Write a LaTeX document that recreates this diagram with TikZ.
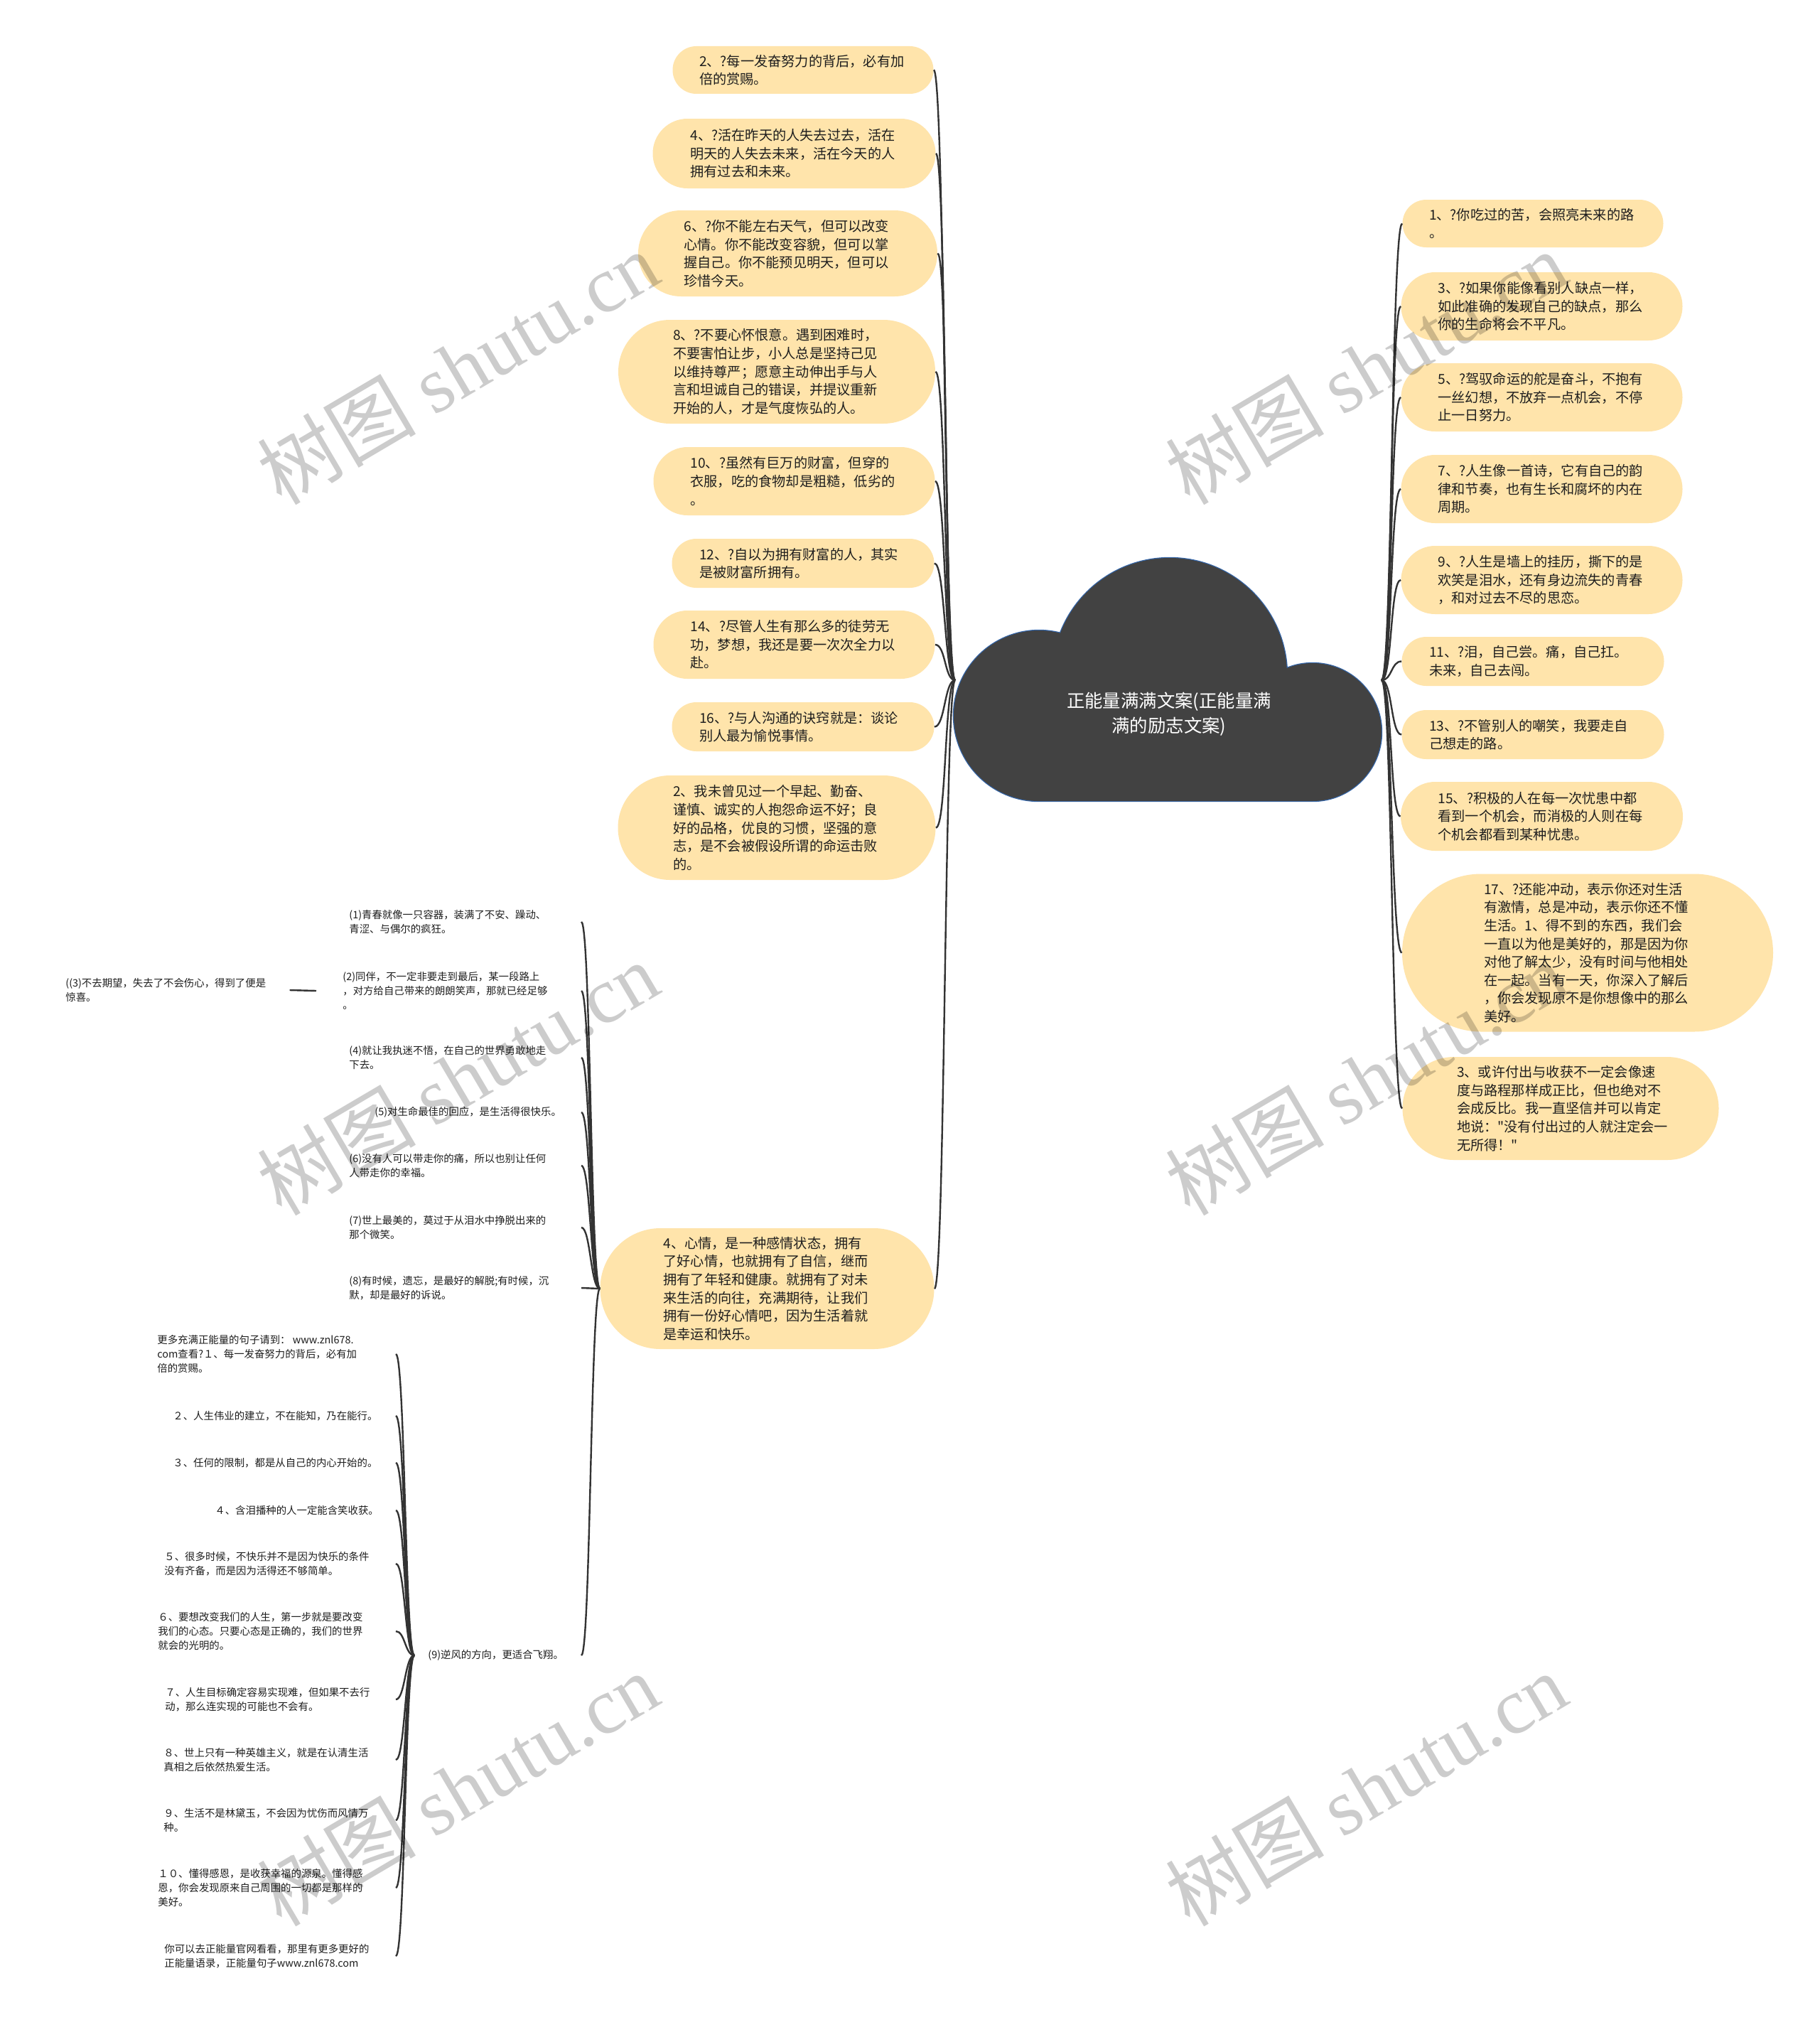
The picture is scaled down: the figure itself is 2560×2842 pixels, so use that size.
\documentclass[tikz,border=0pt]{standalone}
\usepackage{fontspec}
\setmainfont{Noto Sans CJK SC}[Ligatures=TeXOff]
\newfontfamily\wmlatin{Liberation Serif}
\usetikzlibrary{calc}
\definecolor{boxfill}{RGB}{255,228,171}
\definecolor{cloudfill}{RGB}{66,66,66}
\definecolor{cloudline}{RGB}{52,102,170}
\definecolor{linkc}{RGB}{51,51,51}
\definecolor{txt}{RGB}{30,30,30}
\begin{document}
\begin{tikzpicture}[x=0.5pt,y=-0.5pt,
  pill/.style={rectangle, fill=boxfill, text=txt,
    font=\fontsize{9.6pt}{12.8pt}\selectfont, text width=146pt, align=left,
    inner xsep=2pt, inner ysep=2pt,
    minimum height=#1, minimum width=#1+150pt, rounded corners=#1/2-0.05pt},
  leaf/.style={anchor=west, inner sep=0pt, text=txt,
    font=\fontsize{7.2pt}{10pt}\selectfont, align=left},
  link/.style={draw=linkc, line width=1.2pt},
  wm/.style={rotate=30.5, text=black, text opacity=0.2,
    font=\fontsize{56pt}{60pt}\selectfont}
]
\fill[white] (0,0) rectangle (2560,2842);
\useasboundingbox (0,0) rectangle (2560,2842);

% ---------- cloud ----------
\draw[cloudline, line width=1.2pt]
  (1462,1007) circle[radius=60pt]
  (1646,950) circle[radius=82.5pt]
  (1847,1030) circle[radius=48.5pt]
  (1459,1000) rectangle (1847,1127);
\fill[cloudfill]
  (1462,1007) circle[radius=60pt]
  (1646,950) circle[radius=82.5pt]
  (1847,1030) circle[radius=48.5pt]
  (1459,1000) rectangle (1847,1127);
\node[text=white, align=center, font=\fontsize{12.7pt}{17.5pt}\selectfont] (root) at (1645,1005)
  {正能量满满文案(正能量满\\满的励志文案)};
\coordinate (hubL) at (1344,957);
\coordinate (hubR) at (1944,957);

% ---------- left main nodes ----------
\node[pill=33.5pt] (L1) at (1130,98.5) {2、?每一发奋努力的背后，必有加\\倍的赏赐。};
\node[pill=49pt] (L2) at (1117.5,216) {4、?活在昨天的人失去过去，活在\\明天的人失去未来，活在今天的人\\拥有过去和未来。};
\node[pill=60.5pt] (L3) at (1108.5,356.5) {6、?你不能左右天气，但可以改变\\心情。你不能改变容貌，但可以掌\\握自己。你不能预见明天，但可以\\珍惜今天。};
\node[pill=73pt] (L4) at (1093,523) {8、?不要心怀恨意。遇到困难时，\\不要害怕让步，小人总是坚持己见\\以维持尊严；愿意主动伸出手与人\\言和坦诚自己的错误，并提议重新\\开始的人，才是气度恢弘的人。};
\node[pill=48pt] (L5) at (1117.5,677) {10、?虽然有巨万的财富，但穿的\\衣服，吃的食物却是粗糙，低劣的\\。};
\node[pill=34.5pt] (L6) at (1130,792.5) {12、?自以为拥有财富的人，其实\\是被财富所拥有。};
\node[pill=48pt] (L7) at (1117.5,907) {14、?尽管人生有那么多的徒劳无\\功，梦想，我还是要一次次全力以\\赴。};
\node[pill=34.5pt] (L8) at (1130,1022.5) {16、?与人沟通的诀窍就是：谈论\\别人最为愉悦事情。};
\node[pill=73.5pt] (L9) at (1093,1164.5) {2、我未曾见过一个早起、勤奋、\\谨慎、诚实的人抱怨命运不好；良\\好的品格，优良的习惯，坚强的意\\志，是不会被假设所谓的命运击败\\的。};
\node[pill=85pt] (L10) at (1079.5,1813) {4、心情，是一种感情状态，拥有\\了好心情，也就拥有了自信，继而\\拥有了年轻和健康。就拥有了对未\\来生活的向往，充满期待，让我们\\拥有一份好心情吧，因为生活着就\\是幸运和快乐。};

% ---------- right main nodes ----------
\node[pill=33.5pt] (R1) at (2157,314.5) {1、?你吃过的苦，会照亮未来的路\\。};
\node[pill=48pt] (R2) at (2169.5,431) {3、?如果你能像看别人缺点一样，\\如此准确的发现自己的缺点，那么\\你的生命将会不平凡。};
\node[pill=48pt] (R3) at (2169.5,559) {5、?驾驭命运的舵是奋斗，不抱有\\一丝幻想，不放弃一点机会，不停\\止一日努力。};
\node[pill=48pt] (R4) at (2169.5,688) {7、?人生像一首诗，它有自己的韵\\律和节奏，也有生长和腐坏的内在\\周期。};
\node[pill=48pt] (R5) at (2169.5,816) {9、?人生是墙上的挂历，撕下的是\\欢笑是泪水，还有身边流失的青春\\，和对过去不尽的思恋。};
\node[pill=34.5pt] (R6) at (2157,930.5) {11、?泪，自己尝。痛，自己扛。\\未来，自己去闯。};
\node[pill=34.5pt] (R7) at (2157,1033.5) {13、?不管别人的嘲笑，我要走自\\己想走的路。};
\node[pill=48.5pt] (R8) at (2169.5,1148.5) {15、?积极的人在每一次忧患中都\\看到一个机会，而消极的人则在每\\个机会都看到某种忧患。};
\node[pill=111pt] (R9) at (2234,1340.5) {17、?还能冲动，表示你还对生活\\有激情，总是冲动，表示你还不懂\\生活。1、得不到的东西，我们会\\一直以为他是美好的，那是因为你\\对他了解太少，没有时间与他相处\\在一起。当有一天，你深入了解后\\，你会发现原不是你想像中的那么\\美好。};
\node[pill=72.5pt] (R10) at (2196,1559.5) {3、或许付出与收获不一定会像速\\度与路程那样成正比，但也绝对不\\会成反比。我一直坚信并可以肯定\\地说："没有付出过的人就注定会一\\无所得！"};

% ---------- second level (children of L10) ----------
\coordinate (scol) at (818,0);
\node[leaf] (S1) at (491,1297) {(1)青春就像一只容器，装满了不安、躁动、\\青涩、与偶尔的疯狂。};
\node[leaf] (S2) at (482,1394) {(2)同伴，不一定非要走到最后，某一段路上\\，对方给自己带来的朗朗笑声，那就已经足够\\。};
\node[leaf] (S3) at (92,1393) {((3)不去期望，失去了不会伤心，得到了便是\\惊喜。};
\node[leaf] (S4) at (491,1488) {(4)就让我执迷不悟，在自己的世界勇敢地走\\下去。};
\node[leaf] (S5) at (527,1565) {(5)对生命最佳的回应，是生活得很快乐。};
\node[leaf] (S6) at (491,1640) {(6)没有人可以带走你的痛，所以也别让任何\\人带走你的幸福。};
\node[leaf] (S7) at (491,1727) {(7)世上最美的，莫过于从泪水中挣脱出来的\\那个微笑。};
\node[leaf] (S8) at (491,1812) {(8)有时候，遗忘，是最好的解脱;有时候，沉\\默，却是最好的诉说。};
\node[leaf] (S9) at (602,2329) {(9)逆风的方向，更适合飞翔。};

% ---------- third level (children of S9) ----------
\coordinate (tcol) at (557,0);
\node[leaf] (T1) at (221,1905) {更多充满正能量的句子请到： www.znl678.\\com查看?１、每一发奋努力的背后，必有加\\倍的赏赐。};
\node[leaf] (T2) at (243,1992) {２、人生伟业的建立，不在能知，乃在能行。};
\node[leaf] (T3) at (243,2058) {３、任何的限制，都是从自己的内心开始的。};
\node[leaf] (T4) at (302,2125) {４、含泪播种的人一定能含笑收获。};
\node[leaf] (T5) at (231,2200) {５、很多时候，不快乐并不是因为快乐的条件\\没有齐备，而是因为活得还不够简单。};
\node[leaf] (T6) at (222,2295) {６、要想改变我们的人生，第一步就是要改变\\我们的心态。只要心态是正确的，我们的世界\\就会的光明的。};
\node[leaf] (T7) at (232,2391) {７、人生目标确定容易实现难，但如果不去行\\动，那么连实现的可能也不会有。};
\node[leaf] (T8) at (230,2476) {８、世上只有一种英雄主义，就是在认清生活\\真相之后依然热爱生活。};
\node[leaf] (T9) at (230,2561) {９、生活不是林黛玉，不会因为忧伤而风情万\\种。};
\node[leaf] (T10) at (222,2656) {１０、懂得感恩，是收获幸福的源泉。懂得感\\恩，你会发现原来自己周围的一切都是那样的\\美好。};
\node[leaf] (T11) at (231,2752) {你可以去正能量官网看看，那里有更多更好的\\正能量语录，正能量句子www.znl678.com};
\coordinate (thub) at ([xshift=-9.5pt]S9.west);

% ---------- connectors ----------
\foreach \n in {L1,L2,L3,L4,L5,L6,L7,L8,L9,L10}
  \draw[link] (hubL) .. controls +(-15,0) and +(15,0) .. (\n.east);
\foreach \n in {R1,R2,R3,R4,R5,R6,R7,R8,R9,R10}
  \draw[link] (hubR) .. controls +(15,0) and +(-15,0) .. (\n.west);
\foreach \n in {S1,S2,S4,S5,S6,S7,S8,S9}
  \draw[link] (L10.west) .. controls +(-13,0) and +(13,0) .. (\n.center -| scol);
\foreach \n in {T1,T2,T3,T4,T5,T6,T7,T8,T9,T10,T11}
  \draw[link] (thub) .. controls +(-13,0) and +(13,0) .. (\n.center -| tcol);
\draw[link] ([xshift=16.5pt]S3.east) -- ([xshift=-18.5pt]S2.west);

% ---------- watermarks ----------
\foreach \i/\px/\py in {1/644/517, 2/1922/517, 3/644/1517, 4/1922/1517, 5/644/2517, 6/1922/2517}
  \node[wm] (wm\i) at (\px,\py) {树图 {\wmlatin shutu.cn}};
\end{tikzpicture}
\end{document}
